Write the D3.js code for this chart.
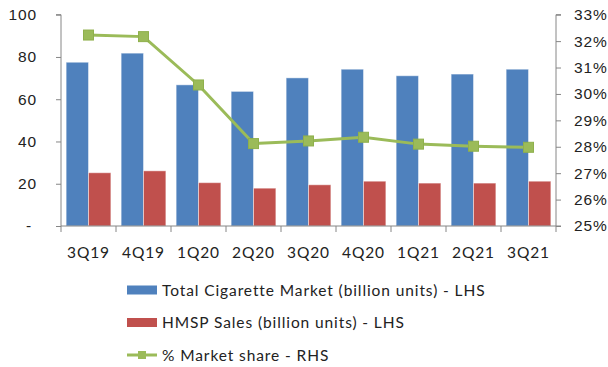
<!DOCTYPE html>
<html>
<head>
<meta charset="utf-8">
<script src="https://cdn.jsdelivr.net/npm/d3@7"></script>
<style>
  html, body { margin: 0; padding: 0; background: #fff; }
  svg { display: block; font-family: Lato, "Liberation Sans", sans-serif; }
  text { letter-spacing: 0.9px; }
</style>
</head>
<body>
<svg id="chart" width="608" height="367"></svg>
<script>
// Quarterly data
const quarters = ["3Q19", "4Q19", "1Q20", "2Q20", "3Q20", "4Q20", "1Q21", "2Q21", "3Q21"];
const totalMarket = [77.5, 81.8, 66.8, 63.7, 70.1, 74.2, 71.1, 71.9, 74.2];   // billion units
const hmspSales = [25.2, 26.1, 20.5, 17.9, 19.5, 21.2, 20.3, 20.3, 21.2];     // billion units
const marketShare = [32.23, 32.17, 30.34, 28.12, 28.22, 28.36, 28.10, 28.02, 27.98]; // %

const leftTicks = [0, 20, 40, 60, 80, 100];
const rightTicks = [25, 26, 27, 28, 29, 30, 31, 32, 33];

const seriesNames = ["Total Cigarette Market (billion units) - LHS", "HMSP Sales (billion units) - LHS", "% Market share - RHS"];
const colors = { total: "#4F81BD", hmsp: "#C0504D", share: "#9BBB59" };

const svg = d3.select("#chart");
const plot = { left: 61, right: 556, top: 14.7, bottom: 226 };
const axisColor = "#868686";
const textColor = "#222";
const fontSize = "15.5px";

const x0 = d3.scaleBand().domain(quarters).range([plot.left, plot.right]).padding(0);
const x1 = d3.scaleBand().domain(["total", "hmsp"]).range([0, x0.bandwidth()])
  .paddingInner(0).paddingOuter(0.23);
const yL = d3.scaleLinear().domain([0, 100]).range([plot.bottom, plot.top]);
const yR = d3.scaleLinear().domain([25, 33]).range([plot.bottom, plot.top]);

// Bars
const groups = svg.append("g").selectAll("g").data(quarters).join("g")
  .attr("transform", d => `translate(${x0(d)},0)`);
groups.append("rect")
  .attr("x", x1("total")).attr("width", x1.bandwidth())
  .attr("y", (d, i) => yL(totalMarket[i])).attr("height", (d, i) => yL(0) - yL(totalMarket[i]))
  .attr("fill", colors.total).attr("stroke", "rgba(255,255,255,0.45)").attr("stroke-width", 1);
groups.append("rect")
  .attr("x", x1("hmsp")).attr("width", x1.bandwidth())
  .attr("y", (d, i) => yL(hmspSales[i])).attr("height", (d, i) => yL(0) - yL(hmspSales[i]))
  .attr("fill", colors.hmsp).attr("stroke", "rgba(255,255,255,0.45)").attr("stroke-width", 1);

// Left axis (zero shown as a dash, accounting style)
const leftAxis = d3.axisLeft(yL).tickValues(leftTicks).tickSize(5).tickPadding(19)
  .tickFormat(d => d === 0 ? "-" : d3.format("d")(d));
const gL = svg.append("g").attr("transform", `translate(${plot.left},0)`).call(leftAxis);
gL.select(".domain").attr("stroke", axisColor).attr("d", `M-5,${yL(100)}H0V${yL(0)}`);
gL.selectAll(".tick line").attr("stroke", axisColor);
gL.selectAll(".tick text").attr("fill", textColor).style("font-size", fontSize)
  .filter(d => d === 0).attr("x", -29);

// Right axis
const rightAxis = d3.axisRight(yR).tickValues(rightTicks).tickSize(5).tickPadding(13)
  .tickFormat(d => d + "%");
const gR = svg.append("g").attr("transform", `translate(${plot.right},0)`).call(rightAxis);
gR.select(".domain").attr("stroke", axisColor).attr("d", `M5,${yR(33)}H0V${yR(25)}H5`);
gR.selectAll(".tick line").attr("stroke", axisColor);
gR.selectAll(".tick text").attr("fill", textColor).style("font-size", fontSize);

// Bottom axis with ticks at category boundaries
const gB = svg.append("g").attr("transform", `translate(0,${plot.bottom})`);
gB.append("line").attr("x1", plot.left).attr("x2", plot.right).attr("stroke", axisColor);
const boundaries = quarters.map(q => x0(q)).concat([plot.right]);
gB.selectAll("line.tk").data(boundaries).join("line").attr("class", "tk")
  .attr("x1", d => d).attr("x2", d => d).attr("y1", 0).attr("y2", 6).attr("stroke", axisColor);
gB.selectAll("text").data(quarters).join("text")
  .attr("x", d => x0(d) + x0.bandwidth() / 2).attr("y", 32)
  .attr("text-anchor", "middle").attr("fill", textColor).style("font-size", fontSize).text(d => d);

// Market share line
const xc = (d, i) => x0(quarters[i]) + x0.bandwidth() / 2;
svg.append("path").datum(marketShare)
  .attr("d", d3.line().x(xc).y(d => yR(d)))
  .attr("fill", "none").attr("stroke", colors.share).attr("stroke-width", 3);
svg.append("g").selectAll("rect").data(marketShare).join("rect")
  .attr("x", (d, i) => xc(d, i) - 5).attr("y", d => yR(d) - 5)
  .attr("width", 10).attr("height", 10)
  .attr("fill", colors.share).attr("stroke", "#8FB04C").attr("stroke-width", 1);

// Legend
const legend = svg.append("g").attr("transform", "translate(127,0)");
const rows = [290, 322.5, 355];
legend.append("rect").attr("x", 0).attr("y", rows[0] - 4.5).attr("width", 30).attr("height", 9).attr("fill", colors.total);
legend.append("rect").attr("x", 0).attr("y", rows[1] - 4.5).attr("width", 30).attr("height", 9).attr("fill", colors.hmsp);
legend.append("line").attr("x1", 0).attr("x2", 30).attr("y1", rows[2]).attr("y2", rows[2])
  .attr("stroke", colors.share).attr("stroke-width", 3);
legend.append("rect").attr("x", 11).attr("y", rows[2] - 4).attr("width", 8).attr("height", 8).attr("fill", colors.share);
legend.selectAll("text").data(seriesNames).join("text")
  .attr("x", 35).attr("y", (d, i) => rows[i] + 5.5)
  .attr("fill", textColor).style("font-size", fontSize).text(d => d);
</script>
</body>
</html>
